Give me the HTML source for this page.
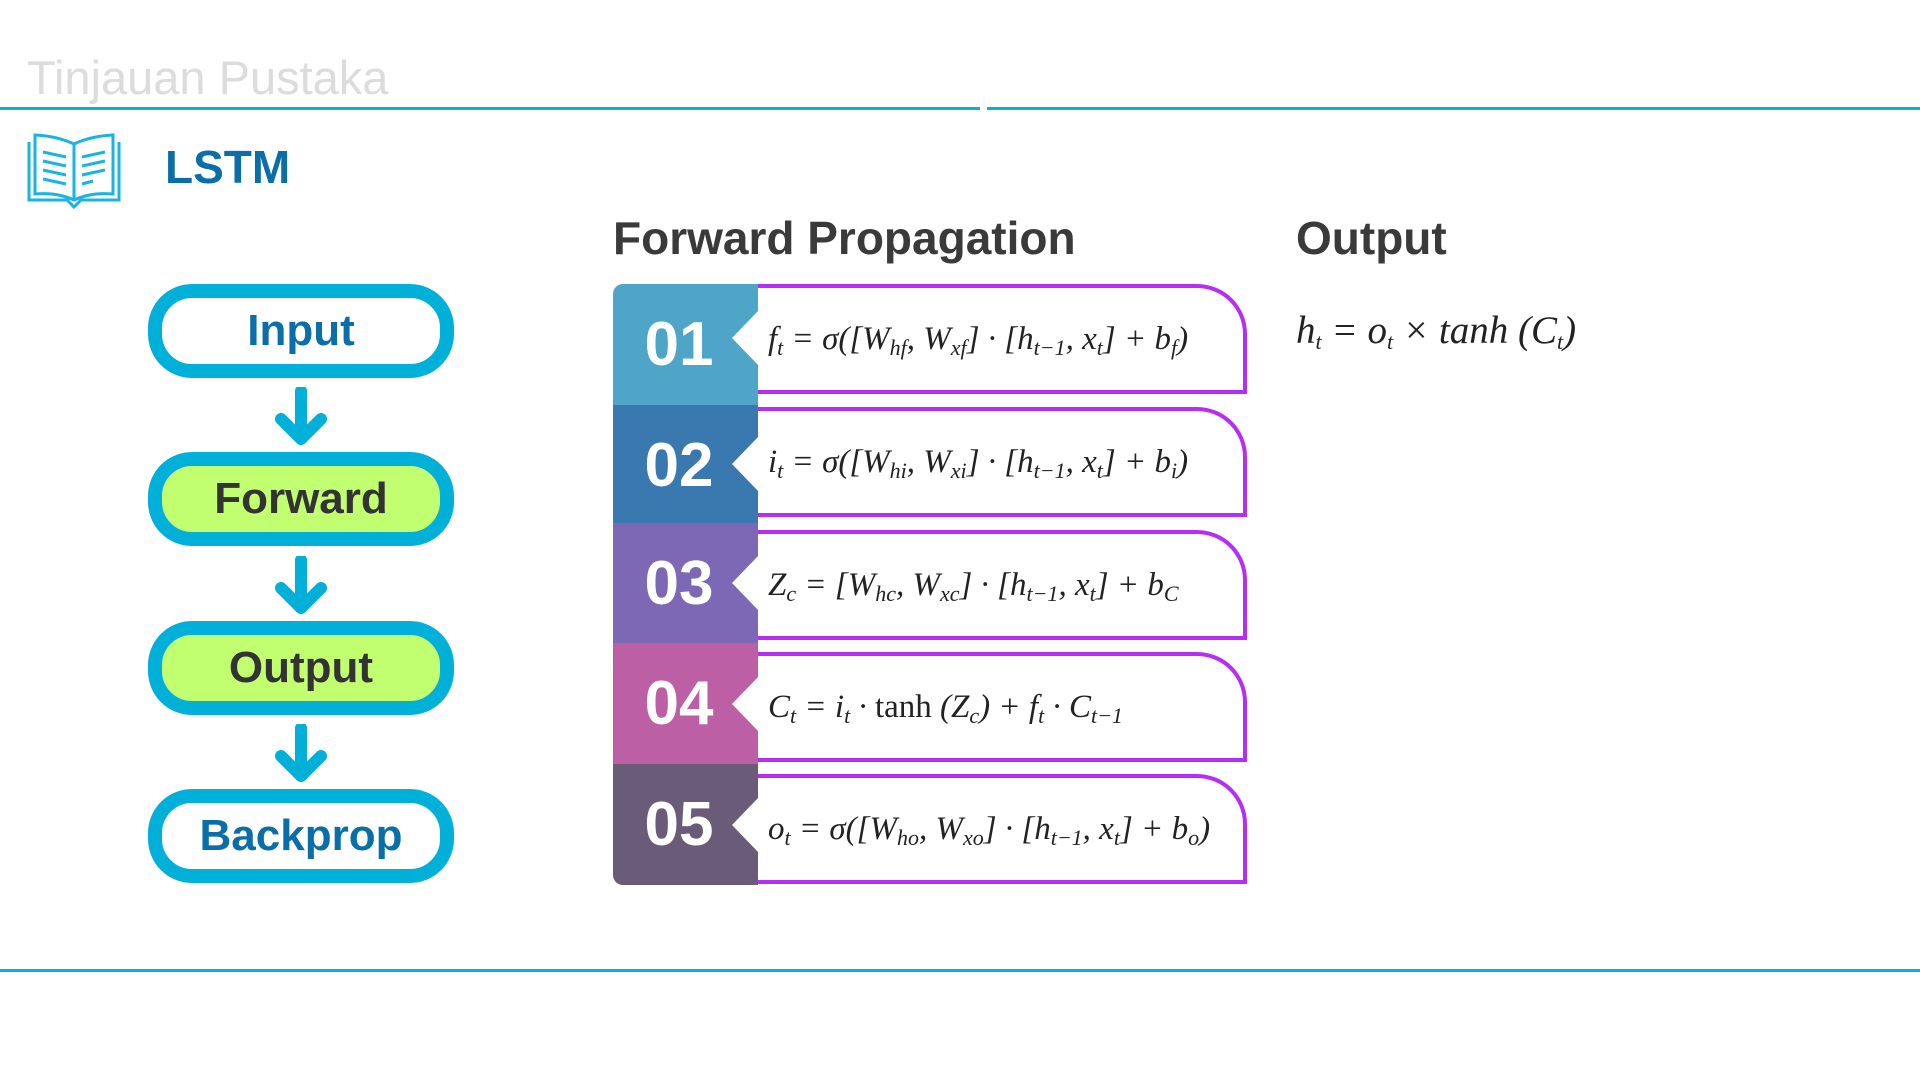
<!DOCTYPE html>
<html><head><meta charset="utf-8"><style>
body{margin:0;width:1920px;height:1080px;background:#fff;position:relative;overflow:hidden;font-family:"Liberation Sans",sans-serif}
.a{position:absolute}
.flow{position:absolute;left:148px;width:306px;height:94px;box-sizing:border-box;border:14px solid #00b0d8;border-radius:44px;display:flex;align-items:center;justify-content:center;font-weight:bold;font-size:44px}
.arrow{position:absolute;left:271px;width:60px;height:58px}
.row{position:absolute;left:613px;width:145px;height:121px}
.num{position:absolute;left:0;top:0;width:132px;height:121px;display:flex;align-items:center;justify-content:center;color:#fff;font-weight:bold;font-size:62px}
.notch{position:absolute;left:732px;width:0;height:0;border-top:28px solid transparent;border-bottom:28px solid transparent;border-right:27px solid #fff}
.pbox{position:absolute;left:758px;width:489px;height:110px;box-sizing:border-box;border:4px solid #b82df5;border-left:none;border-top-right-radius:50px;display:flex;align-items:center;font-family:"Liberation Serif",serif;font-style:italic;font-size:33px;color:#222;padding-left:10px;white-space:nowrap}
sub{font-size:22px;vertical-align:-6px;line-height:0}
</style></head><body>
<div class="a" style="left:27px;top:50px;font-size:47px;color:#dcdcdc">Tinjauan Pustaka</div>
<div class="a" style="left:0;top:107px;width:980px;height:3px;background:#0ab0dc"></div>
<div class="a" style="left:987px;top:107px;width:933px;height:3px;background:#0ab0dc"></div>
<svg class="a" style="left:27px;top:130px" width="95" height="80" viewBox="0 0 95 80" fill="none" stroke="#1ab4e0" stroke-width="3">
<path d="M2 12 V70 H40 L47 77 L54 70 H92 V12"/><path d="M8 5 V64 Q30 62 47 70 Q64 62 86 64 V5 Q64 6 47 14 Q30 6 8 5Z"/><path d="M47 14 V70"/>
<path d="M16 22 L39 27 M16 31 L39 36 M16 40 L39 45 M16 49 L39 54 M55 27 L78 22 M55 36 L78 31 M55 45 L78 40 M55 54 L66 51"/></svg>
<div class="a" style="left:165px;top:140px;font-size:46px;font-weight:bold;color:#0a6ea8">LSTM</div>

<div class="flow" style="top:284px;background:#fff;color:#0a6ea8">Input</div>
<div class="flow" style="top:452px;background:#c2ff70;color:#333">Forward</div>
<div class="flow" style="top:621px;background:#c2ff70;color:#333">Output</div>
<div class="flow" style="top:789px;background:#fff;color:#0a6ea8">Backprop</div>
<svg class="arrow" style="top:387px" viewBox="0 0 60 58"><path d="M30 4 V50 M10 32 L30 52 L50 32" stroke="#00b0d8" stroke-width="12" stroke-linecap="round" stroke-linejoin="round" fill="none"/></svg>
<svg class="arrow" style="top:556px" viewBox="0 0 60 58"><path d="M30 4 V50 M10 32 L30 52 L50 32" stroke="#00b0d8" stroke-width="12" stroke-linecap="round" stroke-linejoin="round" fill="none"/></svg>
<svg class="arrow" style="top:724px" viewBox="0 0 60 58"><path d="M30 4 V50 M10 32 L30 52 L50 32" stroke="#00b0d8" stroke-width="12" stroke-linecap="round" stroke-linejoin="round" fill="none"/></svg>

<div class="a" style="left:613px;top:211px;font-size:46px;font-weight:bold;color:#3a3a3a">Forward Propagation</div>
<div class="a" style="left:1296px;top:211px;font-size:46px;font-weight:bold;color:#3a3a3a">Output</div>
<div class="a" style="left:1296px;top:308px;font-family:'Liberation Serif',serif;font-style:italic;font-size:39px;color:#222;white-space:nowrap">h<sub>t</sub> = o<sub>t</sub> × tanh (C<sub>t</sub>)</div>

<div class="row" style="top:284px;background:#4fa5c8;border-top-left-radius:10px"><div class="num">01</div></div>
<div class="row" style="top:405px;background:#3a78b0"><div class="num">02</div></div>
<div class="row" style="top:523px;background:#7c68b5"><div class="num">03</div></div>
<div class="row" style="top:643px;background:#bc5fa5"><div class="num">04</div></div>
<div class="row" style="top:764px;background:#6a5c78;border-bottom-left-radius:10px"><div class="num">05</div></div>
<div class="notch" style="top:310px"></div>
<div class="notch" style="top:436px"></div>
<div class="notch" style="top:555px"></div>
<div class="notch" style="top:676px"></div>
<div class="notch" style="top:797px"></div>

<div class="pbox" style="top:284px"><span>f<sub>t</sub> = σ([W<sub>hf</sub>, W<sub>xf</sub>] · [h<sub>t−1</sub>, x<sub>t</sub>] + b<sub>f</sub>)</span></div>
<div class="pbox" style="top:407px"><span>i<sub>t</sub> = σ([W<sub>hi</sub>, W<sub>xi</sub>] · [h<sub>t−1</sub>, x<sub>t</sub>] + b<sub>i</sub>)</span></div>
<div class="pbox" style="top:530px"><span>Z<sub>c</sub> = [W<sub>hc</sub>, W<sub>xc</sub>] · [h<sub>t−1</sub>, x<sub>t</sub>] + b<sub>C</sub></span></div>
<div class="pbox" style="top:652px"><span>C<sub>t</sub> = i<sub>t</sub> · <span style="font-style:normal">tanh</span> (Z<sub>c</sub>) + f<sub>t</sub> · C<sub>t−1</sub></span></div>
<div class="pbox" style="top:774px"><span>o<sub>t</sub> = σ([W<sub>ho</sub>, W<sub>xo</sub>] · [h<sub>t−1</sub>, x<sub>t</sub>] + b<sub>o</sub>)</span></div>

<div class="a" style="left:0;top:969px;width:1920px;height:3px;background:#0ab0dc"></div>
</body></html>
